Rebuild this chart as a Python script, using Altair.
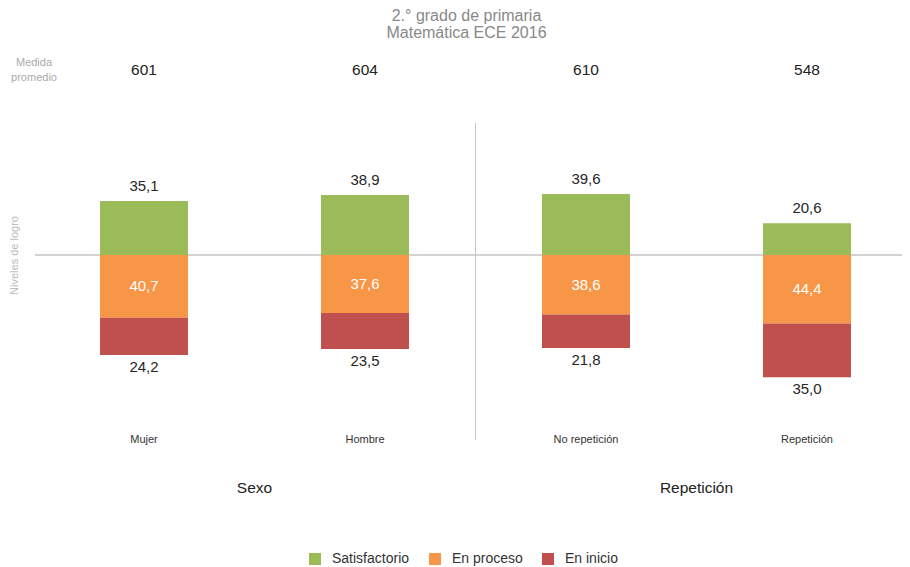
import altair as alt
import pandas as pd

categorias = ["Mujer", "Hombre", "No repetición", "Repetición"]
medida = [601, 604, 610, 548]
satisfactorio = [35.1, 38.9, 39.6, 20.6]
en_proceso = [40.7, 37.6, 38.6, 44.4]
en_inicio = [24.2, 23.5, 21.8, 35.0]
grupos = ["Sexo", "Repetición"]
grupo_ancla = ["Mujer", "No repetición"]
niveles = ["Satisfactorio", "En proceso", "En inicio"]
colores = ["#9BBB59", "#F79646", "#C0504D"]

FONT = "Liberation Sans"

rows = []
for c, s, p, n in zip(categorias, satisfactorio, en_proceso, en_inicio):
    rows.append(dict(cat=c, nivel="Satisfactorio", valor=s, y0=0, y1=s, mid=s / 2))
    rows.append(dict(cat=c, nivel="En proceso", valor=p, y0=0, y1=-p, mid=-p / 2))
    rows.append(dict(cat=c, nivel="En inicio", valor=n, y0=-p, y1=-(p + n), mid=-(p + n / 2)))
bars_df = pd.DataFrame(rows)
cat_df = pd.DataFrame({"cat": categorias, "medida": medida})
grp_df = pd.DataFrame({"cat": grupo_ancla, "grupo": grupos})

PLOT_H = 522
ZERO_PX = 210
PX_PER_UNIT = 1.54
xscale = alt.Scale(domain=categorias, range=[10.5, 894.5], paddingInner=0, paddingOuter=0)
yscale = alt.Scale(domain=[-(PLOT_H - ZERO_PX) / PX_PER_UNIT, ZERO_PX / PX_PER_UNIT], nice=False, zero=False)
X = lambda **kw: alt.X("cat:N", scale=xscale, axis=None, **kw)
Yaxis = alt.Axis(title="Niveles de logro", labels=False, ticks=False, domain=False, grid=False,
                 titleX=-4, titleY=ZERO_PX, titleColor="#bbbbbb", titleFontSize=11,
                 titleFontWeight="normal", titleFont=FONT, titleBaseline="bottom")

base = alt.Chart(bars_df)

zero = alt.Chart(pd.DataFrame({"v": [0]})).mark_rule(color="#c4c4c4", strokeWidth=1.5).encode(
    y=alt.Y("v:Q", scale=yscale, axis=Yaxis), x=alt.value(12), x2=alt.value(879))

divider = alt.Chart(pd.DataFrame({"cat": ["Hombre"]})).mark_rule(color="#c4c4c4", strokeWidth=1).encode(
    x=X(bandPosition=1), y=alt.value(78), y2=alt.value(395))

barras = base.mark_bar(width=88).encode(
    x=X(),
    y=alt.Y("y0:Q", scale=yscale),
    y2="y1:Q",
    color=alt.Color("nivel:N", scale=alt.Scale(domain=niveles, range=colores),
                    legend=alt.Legend(title=None, orient="none", legendX=285, legendY=507,
                                      direction="horizontal", symbolType="square", symbolSize=144,
                                      symbolStrokeWidth=0, labelFontSize=14, labelColor="#333333",
                                      labelFont=FONT, labelOffset=10, columnPadding=18, padding=0)),
)

lab = "replace(format(datum.valor, '.1f'), '.', ',')"

t_sat = base.transform_filter("datum.nivel == 'Satisfactorio'").transform_calculate(lab=lab).mark_text(
    baseline="bottom", dy=-7, fontSize=15, font=FONT, color="#262626").encode(
    x=X(), y=alt.Y("y1:Q", scale=yscale), text="lab:N")

t_pro = base.transform_filter("datum.nivel == 'En proceso'").transform_calculate(lab=lab).mark_text(
    baseline="middle", fontSize=15, font=FONT, color="white").encode(
    x=X(), y=alt.Y("mid:Q", scale=yscale), text="lab:N")

t_ini = base.transform_filter("datum.nivel == 'En inicio'").transform_calculate(lab=lab).mark_text(
    baseline="top", dy=5, fontSize=15, font=FONT, color="#262626").encode(
    x=X(), y=alt.Y("y1:Q", scale=yscale), text="lab:N")

cats = alt.Chart(cat_df)
t_med = cats.mark_text(baseline="middle", fontSize=15.5, font=FONT, color="#222222").encode(
    x=X(), y=alt.value(25), text="medida:N")
t_cat = cats.mark_text(baseline="middle", fontSize=11, font=FONT, color="#333333").encode(
    x=X(), y=alt.value(395), text="cat:N")

t_medlab = alt.Chart(pd.DataFrame({"t": ["Medida\npromedio"]})).mark_text(
    baseline="middle", align="center", fontSize=11, font=FONT, color="#aaaaaa",
    lineBreak="\n", lineHeight=15).encode(x=alt.value(11), y=alt.value(17.5), text="t:N")

t_grp = alt.Chart(grp_df).mark_text(baseline="middle", fontSize=15.5, font=FONT, color="#222222").encode(
    x=X(bandPosition=1), y=alt.value(443), text="grupo:N")

chart = alt.layer(zero, divider, barras, t_sat, t_pro, t_ini, t_med, t_cat, t_medlab, t_grp).properties(
    width=879, height=PLOT_H,
    autosize=alt.AutoSizeParams(type="none"),
    padding={"left": 15, "top": 37, "right": 0, "bottom": 0},
    title=alt.Title(["2.° grado de primaria", "Matemática ECE 2016"], fontSize=16, color="#888888",
                    font=FONT, fontWeight="normal", offset=4, lineHeight=17, anchor="middle", dx=4),
).configure_view(stroke=None)

chart.save("out.html", embed_options={"renderer": "svg", "actions": False})
